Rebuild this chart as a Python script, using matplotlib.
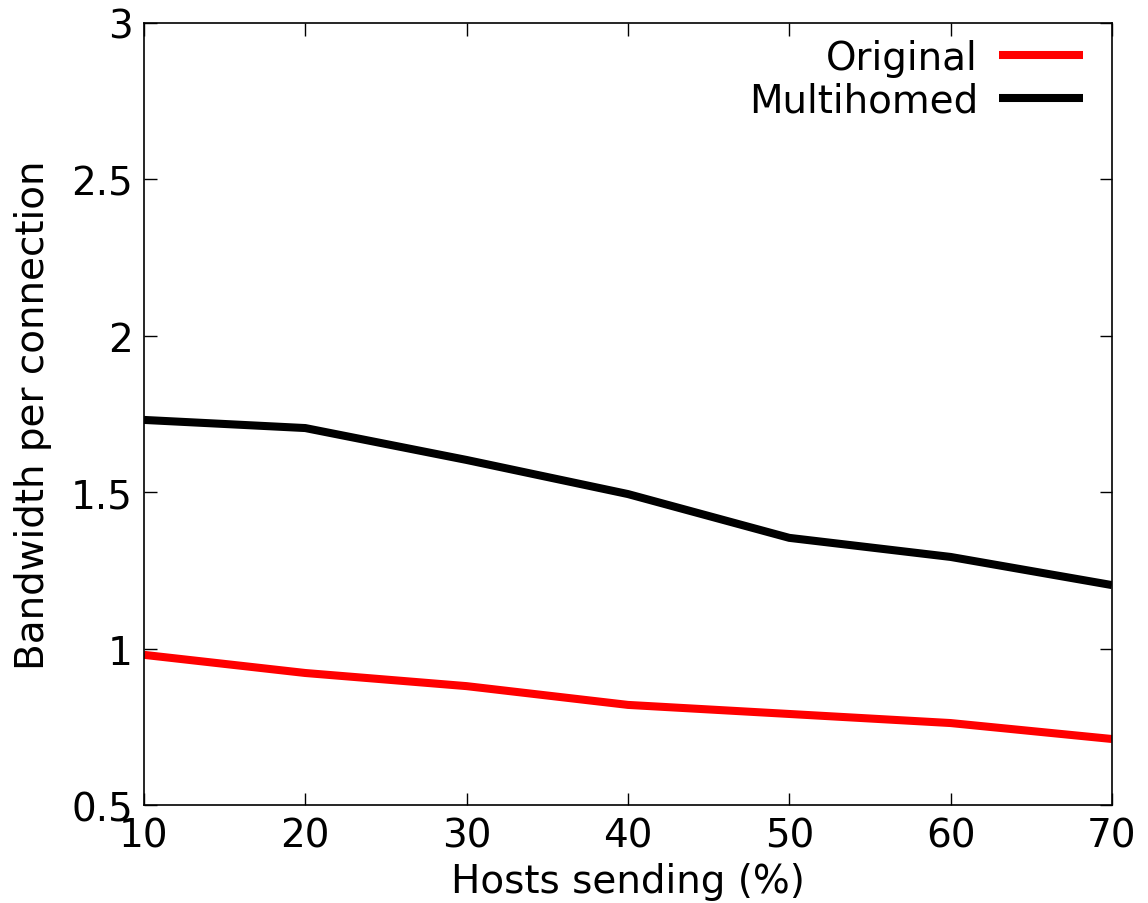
import matplotlib
matplotlib.use("Agg")
import matplotlib.pyplot as plt

hosts_pct = [10, 20, 30, 40, 50, 60, 70]
original = [0.98, 0.922, 0.88, 0.82, 0.791, 0.762, 0.711]
multihomed = [1.731, 1.705, 1.603, 1.494, 1.354, 1.293, 1.203]

x_ticks = [10, 20, 30, 40, 50, 60, 70]
y_ticks = [0.5, 1, 1.5, 2, 2.5, 3]
y_tick_labels = ["0.5", "1", "1.5", "2", "2.5", "3"]

plt.rcParams["font.family"] = ["DejaVu Sans"]
fs = 28

fig = plt.figure(figsize=(11.48, 9.04), dpi=100)
ax = fig.add_axes([0.1254, 0.1084, 0.8432, 0.8651])

ax.plot(hosts_pct, original, color="#ff0000", lw=5.8, label="Original",
        solid_capstyle="butt", solid_joinstyle="miter")
ax.plot(hosts_pct, multihomed, color="#000000", lw=5.8, label="Multihomed",
        solid_capstyle="butt", solid_joinstyle="miter")

ax.set_xlim(10, 70)
ax.set_ylim(0.5, 3)
ax.set_xticks(x_ticks)
ax.set_yticks(y_ticks)
ax.set_yticklabels(y_tick_labels)
ax.tick_params(axis="both", which="major", direction="in", length=9, width=1,
               top=True, right=True, labelsize=fs, pad=8, color="black")
for s in ax.spines.values():
    s.set_linewidth(1.2)
    s.set_color("black")

ax.set_xlabel("Hosts sending (%)", fontsize=fs, labelpad=6)
ax.set_ylabel("Bandwidth per connection", fontsize=fs, labelpad=14)

ax.legend(loc="upper right", bbox_to_anchor=(0.978, 0.99), frameon=False,
          fontsize=fs, markerfirst=False,
          handlelength=2.15, handletextpad=0.55, labelspacing=0.12,
          borderaxespad=0.0, borderpad=0.2)

fig.savefig("out.png", dpi=100)
